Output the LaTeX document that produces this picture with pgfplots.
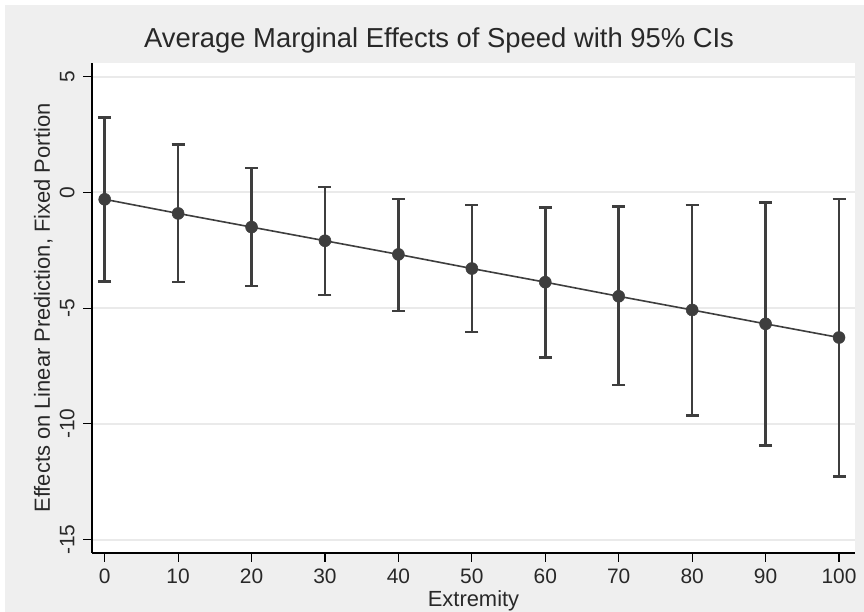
\documentclass[border=0pt]{standalone}
\usepackage{pgfplots}
\pgfplotsset{compat=1.18}
\usepackage{pgfplotstable}
\usepackage{fontspec}
\setmainfont{Liberation Sans}
\definecolor{bggray}{RGB}{239,239,239}
\definecolor{gridgray}{RGB}{234,234,234}
\definecolor{dkgray}{RGB}{62,62,62}
\definecolor{txtgray}{RGB}{40,40,40}

\pgfplotstableread{
x    y      lo      hi
0    -0.30  -3.84   3.24
10   -0.91  -3.87   2.08
20   -1.50  -4.05   1.05
30   -2.09  -4.44   0.24
40   -2.68  -5.12  -0.29
50   -3.29  -6.04  -0.55
60   -3.88  -7.14  -0.65
70   -4.49  -8.33  -0.61
80   -5.08  -9.63  -0.55
90   -5.68  -10.94 -0.43
100  -6.27  -12.27 -0.29
}\margins

\begin{document}
\begin{tikzpicture}[x=1bp,y=1bp]
\fill[white] (0,0) rectangle (864,612);
\fill[bggray] (5,0) rectangle (864,607);
\path[use as bounding box] (0,0) rectangle (864,612);
\begin{axis}[
  at={(92bp,59bp)}, anchor=south west,
  scale only axis, width=763bp, height=490bp,
  xmin=-1.73, xmax=102.18, ymin=-15.58, ymax=5.59,
  axis lines*=left,
  axis line style={black, line width=1.2bp},
  axis background/.style={fill=white},
  xtick={0,10,...,100}, ytick={-15,-10,-5,0,5},
  tick align=outside, major tick length=9bp,
  tick style={black, line width=1.2bp},
  ymajorgrids, grid style={gridgray, line width=2bp},
  /pgf/number format/assume math mode=true,
  tick label style={font=\fontsize{21}{25}\selectfont, text=txtgray},
  xticklabel style={yshift=-3bp},
  yticklabel style={rotate=90, anchor=south, yshift=5bp},
  xlabel={Extremity},
  ylabel={Effects on Linear Prediction, Fixed Portion},
  label style={font=\fontsize{22}{26}\selectfont, text=txtgray},
  xlabel style={at={(axis description cs:0.5,0)}, anchor=base, yshift=-54bp},
  ylabel style={at={(axis description cs:-0.05505,0.5)}, anchor=base},
  title={Average Marginal Effects of Speed with 95\% CIs},
  title style={at={(axis description cs:0.4548,1.0204)}, anchor=base,
    font=\fontsize{27.5}{32}\selectfont, text=txtgray},
  clip=false,
]
\addplot[dkgray, line width=1.6bp, mark=*, mark size=6bp,
  mark options={fill=dkgray, draw=dkgray, line width=0.5bp},
  error bars/.cd, y dir=both, y explicit,
  error bar style={line width=2.6bp, dkgray},
  error mark options={rotate=90, mark size=6.5bp, line width=2.6bp, dkgray}]
  table[x=x, y=y,
    y error plus expr=\thisrow{hi}-\thisrow{y},
    y error minus expr=\thisrow{y}-\thisrow{lo}] {\margins};
\end{axis}
\end{tikzpicture}
\end{document}
